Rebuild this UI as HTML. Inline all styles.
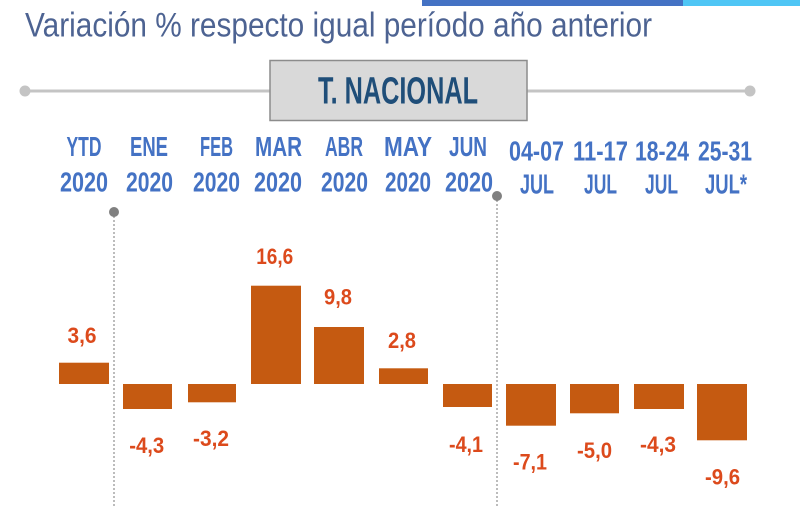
<!DOCTYPE html>
<html>
<head>
<meta charset="utf-8">
<style>
html,body{margin:0;padding:0;background:#fff;}
svg{display:block;}
text{font-family:"Liberation Sans",sans-serif;}
.h{font-weight:bold;fill:#4472c4;font-size:21px;}
.v{font-weight:bold;fill:#dc4a1c;font-size:18px;}
</style>
</head>
<body>
<svg width="800" height="507" viewBox="0 0 800 507" xmlns="http://www.w3.org/2000/svg">
<!-- top color bars -->
<rect x="422" y="0" width="261" height="6" fill="#4472c4"/>
<rect x="683" y="0" width="117" height="6" fill="#4fc6f5"/>
<!-- title -->
<text x="25" y="36.5" font-size="34" fill="#4d6392" textLength="627" lengthAdjust="spacingAndGlyphs">Variación % respecto igual período año anterior</text>
<!-- gray line with ends -->
<line x1="25" y1="91" x2="750" y2="91" stroke="#c4c4c4" stroke-width="3"/>
<circle cx="25" cy="91" r="5.5" fill="#c4c4c4"/>
<circle cx="750" cy="91" r="5.5" fill="#c4c4c4"/>
<rect x="270" y="60.5" width="257" height="60" fill="#d9d9d9" stroke="#8c8c8c" stroke-width="1.5"/>
<text transform="translate(398,103.3) scale(1,1.35)" text-anchor="middle" font-size="28" font-weight="bold" fill="#1f4e79" textLength="160" lengthAdjust="spacingAndGlyphs">T. NACIONAL</text>

<!-- header labels -->
<g class="h" text-anchor="middle">
<text class="h" transform="translate(84,156) scale(1,1.3)" textLength="35" lengthAdjust="spacingAndGlyphs">YTD</text>
<text class="h" transform="translate(84,191.5) scale(1,1.3)" textLength="48" lengthAdjust="spacingAndGlyphs">2020</text>
<text class="h" transform="translate(149,156) scale(1,1.3)" textLength="38" lengthAdjust="spacingAndGlyphs">ENE</text>
<text class="h" transform="translate(149.5,191.5) scale(1,1.3)" textLength="47" lengthAdjust="spacingAndGlyphs">2020</text>
<text class="h" transform="translate(216.5,156) scale(1,1.3)" textLength="33" lengthAdjust="spacingAndGlyphs">FEB</text>
<text class="h" transform="translate(216.5,191.5) scale(1,1.3)" textLength="47" lengthAdjust="spacingAndGlyphs">2020</text>
<text class="h" transform="translate(278.5,156) scale(1,1.3)" textLength="47" lengthAdjust="spacingAndGlyphs">MAR</text>
<text class="h" transform="translate(278,191.5) scale(1,1.3)" textLength="48" lengthAdjust="spacingAndGlyphs">2020</text>
<text class="h" transform="translate(344,156) scale(1,1.3)" textLength="38" lengthAdjust="spacingAndGlyphs">ABR</text>
<text class="h" transform="translate(344.5,191.5) scale(1,1.3)" textLength="47" lengthAdjust="spacingAndGlyphs">2020</text>
<text class="h" transform="translate(408,156) scale(1,1.3)" textLength="48" lengthAdjust="spacingAndGlyphs">MAY</text>
<text class="h" transform="translate(408,191.5) scale(1,1.3)" textLength="46" lengthAdjust="spacingAndGlyphs">2020</text>
<text class="h" transform="translate(468,156) scale(1,1.3)" textLength="38" lengthAdjust="spacingAndGlyphs">JUN</text>
<text class="h" transform="translate(469,191.5) scale(1,1.3)" textLength="48" lengthAdjust="spacingAndGlyphs">2020</text>
<text class="h" transform="translate(536.5,160.5) scale(1,1.3)" textLength="55" lengthAdjust="spacingAndGlyphs">04-07</text>
<text class="h" transform="translate(537,193.5) scale(1,1.3)" textLength="34" lengthAdjust="spacingAndGlyphs">JUL</text>
<text class="h" transform="translate(600.5,160.5) scale(1,1.3)" textLength="55" lengthAdjust="spacingAndGlyphs">11-17</text>
<text class="h" transform="translate(600.5,193.5) scale(1,1.3)" textLength="33" lengthAdjust="spacingAndGlyphs">JUL</text>
<text class="h" transform="translate(662,160.5) scale(1,1.3)" textLength="54" lengthAdjust="spacingAndGlyphs">18-24</text>
<text class="h" transform="translate(661.5,193.5) scale(1,1.3)" textLength="33" lengthAdjust="spacingAndGlyphs">JUL</text>
<text class="h" transform="translate(725,160.5) scale(1,1.3)" textLength="54" lengthAdjust="spacingAndGlyphs">25-31</text>
<text class="h" transform="translate(726,193.5) scale(1,1.3)" textLength="42" lengthAdjust="spacingAndGlyphs">JUL*</text>
</g>

<!-- dotted separators -->
<line x1="114" y1="212" x2="114" y2="507" stroke="#a6a6a6" stroke-width="1.5" stroke-dasharray="2,2"/>
<circle cx="114" cy="212" r="5" fill="#808080"/>
<line x1="497" y1="196" x2="497" y2="507" stroke="#a6a6a6" stroke-width="1.5" stroke-dasharray="2,2"/>
<circle cx="497" cy="196" r="5" fill="#808080"/>

<!-- bars -->
<g fill="#c55a11">
<rect x="59" y="362.7" width="50" height="21.3"/>
<rect x="123" y="384" width="49" height="25"/>
<rect x="188" y="384" width="48" height="18.3"/>
<rect x="251" y="285.7" width="50" height="98.3"/>
<rect x="314" y="327" width="50" height="57"/>
<rect x="379" y="368.3" width="49" height="15.7"/>
<rect x="443" y="384" width="49" height="23"/>
<rect x="506" y="384" width="50" height="41.7"/>
<rect x="570" y="384" width="49" height="29.3"/>
<rect x="634" y="384" width="50" height="25"/>
<rect x="697" y="384" width="50" height="56.3"/>
</g>

<!-- value labels -->
<g text-anchor="middle">
<text class="v" transform="translate(82,343) scale(1,1.25)" textLength="29" lengthAdjust="spacingAndGlyphs">3,6</text>
<text class="v" transform="translate(274.7,264) scale(1,1.25)" textLength="37" lengthAdjust="spacingAndGlyphs">16,6</text>
<text class="v" transform="translate(338,304.7) scale(1,1.25)" textLength="28" lengthAdjust="spacingAndGlyphs">9,8</text>
<text class="v" transform="translate(402,348) scale(1,1.25)" textLength="28" lengthAdjust="spacingAndGlyphs">2,8</text>
<text class="v" transform="translate(146.7,453) scale(1,1.25)" textLength="35" lengthAdjust="spacingAndGlyphs">-4,3</text>
<text class="v" transform="translate(211,446) scale(1,1.25)" textLength="36" lengthAdjust="spacingAndGlyphs">-3,2</text>
<text class="v" transform="translate(466,452) scale(1,1.25)" textLength="34" lengthAdjust="spacingAndGlyphs">-4,1</text>
<text class="v" transform="translate(530,469.7) scale(1,1.25)" textLength="34" lengthAdjust="spacingAndGlyphs">-7,1</text>
<text class="v" transform="translate(594.5,458) scale(1,1.25)" textLength="35" lengthAdjust="spacingAndGlyphs">-5,0</text>
<text class="v" transform="translate(658,452) scale(1,1.25)" textLength="36" lengthAdjust="spacingAndGlyphs">-4,3</text>
<text class="v" transform="translate(722.5,484.7) scale(1,1.25)" textLength="35" lengthAdjust="spacingAndGlyphs">-9,6</text>
</g>
</svg>
</body>
</html>
